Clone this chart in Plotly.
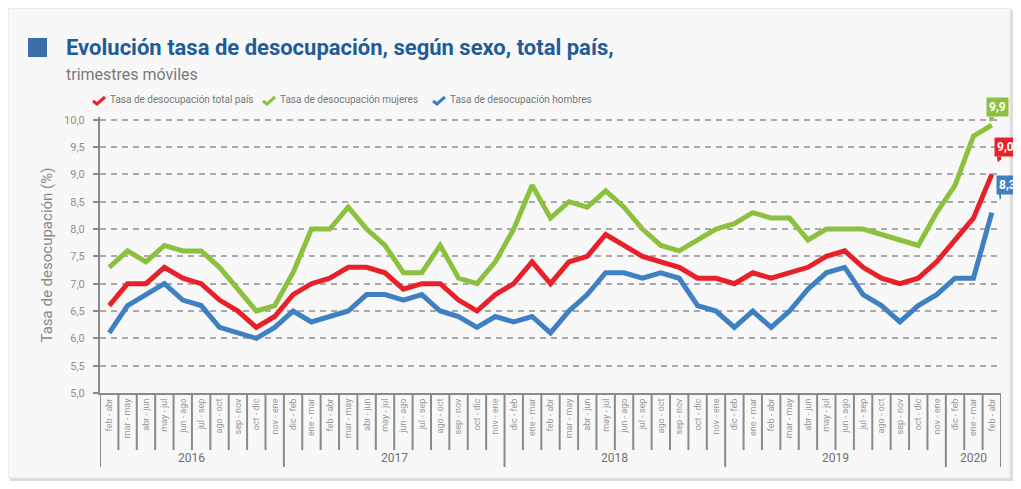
import plotly.graph_objects as go

# ---------------- data ----------------
years = ["2016", "2017", "2018", "2019", "2020"]
year_counts = [10, 12, 12, 12, 3]

periods = [
    "feb - abr", "mar - may", "abr - jun", "may - jul", "jun - ago", "jul - sep",
    "ago - oct", "sep - nov", "oct - dic", "nov - ene",
    "dic - feb", "ene - mar", "feb - abr", "mar - may", "abr - jun", "may - jul",
    "jun - ago", "jul - sep", "ago - oct", "sep - nov", "oct - dic", "nov - ene",
    "dic - feb", "ene - mar", "feb - abr", "mar - may", "abr - jun", "may - jul",
    "jun - ago", "jul - sep", "ago - oct", "sep - nov", "oct - dic", "nov - ene",
    "dic - feb", "ene - mar", "feb - abr", "mar - may", "abr - jun", "may - jul",
    "jun - ago", "jul - sep", "ago - oct", "sep - nov", "oct - dic", "nov - ene",
    "dic - feb", "ene - mar", "feb - abr",
]

total = [6.6, 7.0, 7.0, 7.3, 7.1, 7.0, 6.7, 6.5, 6.2, 6.4,
         6.8, 7.0, 7.1, 7.3, 7.3, 7.2, 6.9, 7.0, 7.0, 6.7, 6.5, 6.8,
         7.0, 7.4, 7.0, 7.4, 7.5, 7.9, 7.7, 7.5, 7.4, 7.3, 7.1, 7.1,
         7.0, 7.2, 7.1, 7.2, 7.3, 7.5, 7.6, 7.3, 7.1, 7.0, 7.1, 7.4,
         7.8, 8.2, 9.0]

women = [7.3, 7.6, 7.4, 7.7, 7.6, 7.6, 7.3, 6.9, 6.5, 6.6,
         7.2, 8.0, 8.0, 8.4, 8.0, 7.7, 7.2, 7.2, 7.7, 7.1, 7.0, 7.4,
         8.0, 8.8, 8.2, 8.5, 8.4, 8.7, 8.4, 8.0, 7.7, 7.6, 7.8, 8.0,
         8.1, 8.3, 8.2, 8.2, 7.8, 8.0, 8.0, 8.0, 7.9, 7.8, 7.7, 8.3,
         8.8, 9.7, 9.9]

men = [6.1, 6.6, 6.8, 7.0, 6.7, 6.6, 6.2, 6.1, 6.0, 6.2,
       6.5, 6.3, 6.4, 6.5, 6.8, 6.8, 6.7, 6.8, 6.5, 6.4, 6.2, 6.4,
       6.3, 6.4, 6.1, 6.5, 6.8, 7.2, 7.2, 7.1, 7.2, 7.1, 6.6, 6.5,
       6.2, 6.5, 6.2, 6.5, 6.9, 7.2, 7.3, 6.8, 6.6, 6.3, 6.6, 6.8,
       7.1, 7.1, 8.3]

series_names = ["Tasa de desocupación total país",
                "Tasa de desocupación mujeres",
                "Tasa de desocupación hombres"]
series_values = [total, women, men]
series_colors = ["#e8202a", "#8cc13f", "#3f80c2"]

# ---------------- layout helpers ----------------
OFF = 8                     # page margin of the html body
W, H = 1021 - OFF, 489 - OFF
ml, mr, mt, mb = 92, 20, 109, 96
pw, ph = W - ml - mr, H - mt - mb


def px_x(p):
    """screen pixel x -> paper x"""
    return (p - OFF - ml) / pw


def px_y(p):
    """screen pixel y -> paper y"""
    return (H - mb - (p - OFF)) / ph


FONT = "Roboto, Open Sans, sans-serif"
GRAY = "#8a8a8a"

x = list(range(len(periods)))

fig = go.Figure()
for name, vals, color in zip(series_names, series_values, series_colors):
    fig.add_trace(go.Scatter(
        x=x, y=vals, mode="lines", name=name,
        line=dict(color=color, width=5, shape="linear"),
        hoverinfo="skip", showlegend=False,
    ))

shapes = []
# card shadow + card
shapes.append(dict(type="rect", xref="paper", yref="paper", layer="below",
                   x0=px_x(10), x1=px_x(1013), y0=px_y(10), y1=px_y(481),
                   fillcolor="#dcdcdc", line=dict(width=0)))
shapes.append(dict(type="rect", xref="paper", yref="paper", layer="below",
                   x0=px_x(8), x1=px_x(1010), y0=px_y(8), y1=px_y(478),
                   fillcolor="#f8f8f8", line=dict(color="#e4e4e4", width=1)))
# blue square next to title
shapes.append(dict(type="rect", xref="paper", yref="paper",
                   x0=px_x(28), x1=px_x(47), y0=px_y(38), y1=px_y(57),
                   fillcolor="#3a6ea8", line=dict(width=0)))

# category separators and year dividers
bounds = [-0.5]
for c in year_counts:
    bounds.append(bounds[-1] + c)
for i in range(len(periods) + 1):
    b = i - 0.5
    if b in bounds:
        continue
    shapes.append(dict(type="line", xref="x", yref="paper",
                       x0=b, x1=b, y0=0, y1=px_y(450),
                       line=dict(color=GRAY, width=2)))
for b in bounds:
    shapes.append(dict(type="line", xref="x", yref="paper",
                       x0=b, x1=b, y0=0, y1=px_y(467),
                       line=dict(color=GRAY, width=2)))

annotations = []
# title & subtitle
annotations.append(dict(xref="paper", yref="paper", x=px_x(64), y=px_y(47),
                        xanchor="left", yanchor="middle", showarrow=False,
                        text="<b>Evolución tasa de desocupación, según sexo, total país,</b>",
                        font=dict(family=FONT, size=22, color="#1f5d98")))
annotations.append(dict(xref="paper", yref="paper", x=px_x(64), y=px_y(74),
                        xanchor="left", yanchor="middle", showarrow=False,
                        text="trimestres móviles",
                        font=dict(family=FONT, size=16, color="#7a7a7a")))

# custom legend: check-mark icons + labels
LEG_X0, LEG_STEP, LEG_Y = 92, 170, 100
for k, (name, color) in enumerate(zip(series_names, series_colors)):
    x0 = LEG_X0 + k * LEG_STEP
    path = "M {:.5f},{:.5f} L {:.5f},{:.5f} L {:.5f},{:.5f}".format(
        px_x(x0 + 1), px_y(LEG_Y + 1),
        px_x(x0 + 5), px_y(LEG_Y + 4),
        px_x(x0 + 13), px_y(LEG_Y - 3))
    shapes.append(dict(type="path", xref="paper", yref="paper", path=path,
                       line=dict(color=color, width=3)))
    annotations.append(dict(xref="paper", yref="paper", x=px_x(x0 + 16), y=px_y(LEG_Y),
                            xanchor="left", yanchor="middle", showarrow=False,
                            text=name, font=dict(family=FONT, size=10, color="#777777")))

# year labels
for yr, b0, b1 in zip(years, bounds[:-1], bounds[1:]):
    annotations.append(dict(xref="x", yref="paper", x=(b0 + b1) / 2, y=px_y(458),
                            xanchor="center", yanchor="middle", showarrow=False,
                            text=yr, font=dict(family=FONT, size=12, color="#6f6f6f")))

# end value callouts (right edge kept inside the picture) with small pointers
offsets = [(25, 17), (17, 8), (27, 18)]
for vals, color, (dx, dy) in zip(series_values, series_colors, offsets):
    annotations.append(dict(xref="x", yref="y", x=x[-1], y=vals[-1],
                            xanchor="right", yanchor="bottom", xshift=dx, yshift=dy,
                            showarrow=False, bgcolor=color, borderpad=2,
                            text="<b>" + f"{vals[-1]:.1f}".replace(".", ",") + "</b>",
                            font=dict(family=FONT, size=12, color="white")))
    bx = dx - 22  # left edge of the box relative to the point, in px
    shapes.append(dict(type="path", xref="x", yref="y",
                       xsizemode="pixel", ysizemode="pixel",
                       xanchor=x[-1], yanchor=vals[-1],
                       path=f"M {bx + 2},{dy + 1} L {bx + 9},{dy + 1} L {bx + 3},{dy - 5} Z",
                       fillcolor=color, line=dict(width=0)))

fig.update_layout(
    width=W, height=H,
    margin=dict(l=ml, r=mr, t=mt, b=mb, pad=0),
    paper_bgcolor="white", plot_bgcolor="rgba(0,0,0,0)",
    separators=",.",
    font=dict(family=FONT, color=GRAY),
    showlegend=False,
    shapes=shapes,
    annotations=annotations,
    xaxis=dict(
        range=[-0.5, len(periods) - 0.5], tickmode="array", tickvals=x, ticktext=periods,
        tickangle=-90, tickfont=dict(family=FONT, size=9, color="#9a9a9a"),
        ticks="", showgrid=False, zeroline=False,
        showline=True, linecolor=GRAY, linewidth=2,
    ),
    yaxis=dict(
        range=[5, 10.05], tick0=5, dtick=0.5, tickformat=".1f",
        tickfont=dict(family=FONT, size=11, color="#8f8f8f"),
        showgrid=True, gridcolor="#a9a9a9", gridwidth=1.5, griddash="6px,5px",
        zeroline=False, showline=True, linecolor=GRAY, linewidth=2,
        ticks="outside", ticklen=5, tickcolor=GRAY, tickwidth=1.5,
        ticklabelstandoff=6,
        title=dict(text="Tasa de desocupación (%)", standoff=8,
                   font=dict(family=FONT, size=15, color="#888888")),
    ),
)

fig.write_html("out.html")
